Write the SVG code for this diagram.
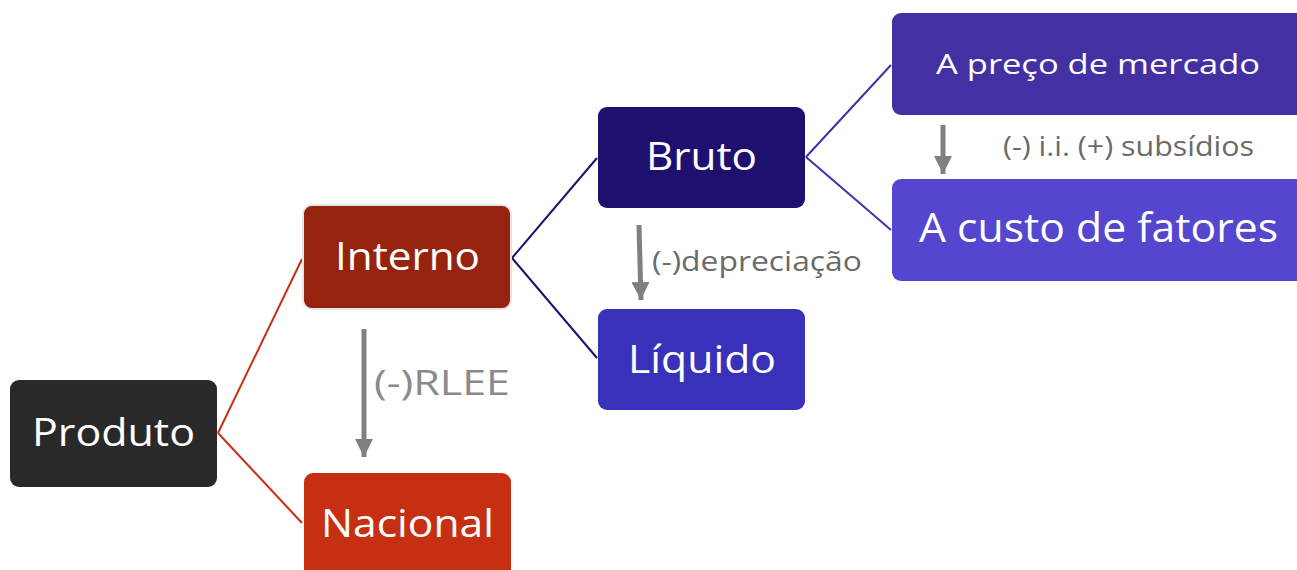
<svg xmlns="http://www.w3.org/2000/svg" width="1297" height="570" viewBox="0 0 1297 570">
<style>
.lbl{font-family:"Open Sans","Noto Sans","Liberation Sans",sans-serif;fill:#ffffff;text-anchor:middle}
.note{font-family:"Open Sans","Noto Sans","Liberation Sans",sans-serif;fill:#6a6a6a}
.arr{stroke:#808080;stroke-width:5;fill:none}
</style>
<defs>
<marker id="ah" viewBox="0 0 10 10" refX="10" refY="5" markerWidth="3.6" markerHeight="3.6" orient="auto" markerUnits="strokeWidth">
<path d="M0,0 L10,5 L0,10 z" fill="#808080"/>
</marker>
</defs>
<rect width="1297" height="570" fill="#ffffff"/>
<g id="connectors" fill="none" stroke-width="2">
<path d="M218,433 L302,259" stroke="#C72F12"/>
<path d="M218,433 L302,523" stroke="#C72F12"/>
<path d="M512,258 L597,158" stroke="#1F0F6E"/>
<path d="M512,258 L597,358" stroke="#1F0F6E"/>
<path d="M806,157 L891,65" stroke="#4331A3"/>
<path d="M806,157 L891,230" stroke="#4331A3"/>
<path class="arr" d="M364,329 L364,457" marker-end="url(#ah)"/>
<path class="arr" d="M639,225 L641,300" marker-end="url(#ah)"/>
<path class="arr" d="M943,125 L943,174" marker-end="url(#ah)"/>
</g>
<g id="produto">
<rect x="10" y="380" width="207" height="107" rx="9" fill="#292929"/>
<text class="lbl" x="113.5" y="446" font-size="39" textLength="163" lengthAdjust="spacingAndGlyphs">Produto</text>
</g>
<g id="interno">
<rect x="303" y="205" width="208" height="104" rx="9" fill="#96230E" stroke="#e6e6e6" stroke-width="2"/>
<text class="lbl" x="407.5" y="270" font-size="39" textLength="145" lengthAdjust="spacingAndGlyphs">Interno</text>
</g>
<g id="nacional">
<rect x="304" y="473" width="207" height="110" rx="9" fill="#C72F12"/>
<text class="lbl" x="407.5" y="537" font-size="39" textLength="173" lengthAdjust="spacingAndGlyphs">Nacional</text>
</g>
<g id="bruto">
<rect x="598" y="107" width="207" height="101" rx="9" fill="#1F0F6E"/>
<text class="lbl" x="701.5" y="170" font-size="39" textLength="111" lengthAdjust="spacingAndGlyphs">Bruto</text>
</g>
<g id="liquido">
<rect x="598" y="309" width="207" height="101" rx="9" fill="#3A31BA"/>
<text class="lbl" x="702" y="373" font-size="39" textLength="148" lengthAdjust="spacingAndGlyphs">Líquido</text>
</g>
<g id="preco">
<rect x="892" y="13" width="415" height="102" rx="9" fill="#4331A3"/>
<text class="lbl" x="1098" y="74" font-size="28" textLength="324" lengthAdjust="spacingAndGlyphs">A preço de mercado</text>
</g>
<g id="custo">
<rect x="892" y="179" width="415" height="102" rx="9" fill="#5546D0"/>
<text class="lbl" x="1098.5" y="242" font-size="41" textLength="359" lengthAdjust="spacingAndGlyphs">A custo de fatores</text>
</g>
<g id="notes">
<text class="note" x="374" y="395" font-size="35" fill="#8a8a8a" style="fill:#8a8a8a" textLength="136" lengthAdjust="spacingAndGlyphs">(-)RLEE</text>
<text class="note" x="652" y="271" font-size="27" textLength="210" lengthAdjust="spacingAndGlyphs">(-)depreciação</text>
<text class="note" x="1003" y="156" font-size="27" textLength="251" lengthAdjust="spacingAndGlyphs">(-) i.i. (+) subsídios</text>
</g>
</svg>
